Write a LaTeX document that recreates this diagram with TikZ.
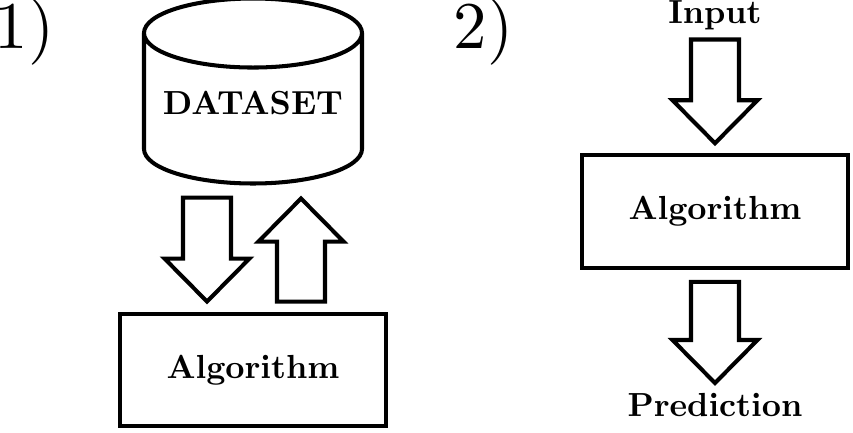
\documentclass[tikz,border=0pt]{standalone}
\usetikzlibrary{positioning,shapes.geometric,calc}
\font\boldword=cmbx10 at 19pt
\font\bignum=cmr10 at 38pt
\tikzstyle{block} = [draw, line width=2.3pt, minimum width=5.32cm, minimum height=2.25cm, font=\boldword]
\tikzstyle{store} = [draw, cylinder, shape border rotate=90, aspect=0.36, line width=2.3pt, minimum width=4.36cm, minimum height=3.7cm, text depth=0.46cm, font=\boldword]
\tikzstyle{word} = [font=\boldword, inner sep=0pt]
\tikzstyle{num} = [font=\bignum, inner sep=0pt]
\tikzstyle{fat} = [draw, line width=2.3pt, to path={
    ($(\tikztotarget)!0.86cm!(\tikztostart)$) coordinate (neck)
    ($(\tikztostart)!0.48cm!90:(\tikztotarget)$)
    -- ($(neck)!0.48cm!-90:(\tikztostart)$)
    -- ($(neck)!0.85cm!-90:(\tikztostart)$)
    -- (\tikztotarget)
    -- ($(neck)!0.85cm!90:(\tikztostart)$)
    -- ($(neck)!0.48cm!90:(\tikztostart)$)
    -- ($(\tikztostart)!0.48cm!-90:(\tikztotarget)$)
    -- cycle}]

\begin{document}
\begin{tikzpicture}
    \useasboundingbox (0,0) rectangle (17.06,-8.66);
    %Training
    \node [num, anchor=base west] (one) at (-0.11,-0.966) {1)};
    \node [store, anchor=shape center] (db) at (5.06,-1.82) {DATASET};
    \node [block, below = 2.52cm of db] (alg1) {Algorithm};
    %Prediction
    \node [num, anchor=base west] (two) at (9.07,-0.966) {2)};
    \node [block] (alg2) at (14.3,-4.23) {Algorithm};
    \node [word, anchor=base] (input) at (14.3,-0.47) {Input};
    \node [word, anchor=base] (pred) at (14.3,-8.32) {Prediction};
    %Arrows
    \draw [fat] ([xshift=-0.92cm,yshift=-0.24cm]db.south) to ([xshift=-0.92cm,yshift=0.2cm]alg1.north);
    \draw [fat] ([xshift=0.96cm,yshift=0.2cm]alg1.north) to ([xshift=0.96cm,yshift=-0.26cm]db.south);
    \draw [fat] ([yshift=-0.32cm]input.base) to ([yshift=0.2cm]alg2.north);
    \draw [fat] ([yshift=-0.24cm]alg2.south) to ([yshift=0.66cm]pred.base);
\end{tikzpicture}
\end{document}
